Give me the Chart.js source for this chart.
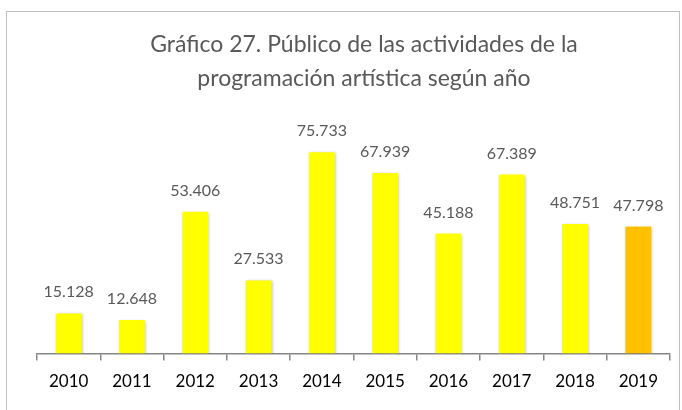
<!DOCTYPE html>
<html><head><meta charset="utf-8">
<script src="https://cdn.jsdelivr.net/npm/chart.js@4.4.0/dist/chart.umd.min.js"></script>
<style>html,body{margin:0;padding:0;background:#fff;}canvas{display:block;}</style>
</head><body>
<canvas id="c" width="682" height="410"></canvas>
<script>
const categories = ['2010','2011','2012','2013','2014','2015','2016','2017','2018','2019'];
const publico = [15128, 12648, 53406, 27533, 75733, 67939, 45188, 67389, 48751, 47798];
const valueLabels = ['15.128','12.648','53.406','27.533','75.733','67.939','45.188','67.389','48.751','47.798'];
const titleLines = ['Gráfico 27. Público de las actividades de la', 'programación artística según año'];
const barColors = categories.map((c,i)=> i === categories.length-1 ? '#FFC000' : '#FFFF00');

const FONT = 'Lato, "Open Sans", sans-serif';

const decor = {
  id:'decor',
  beforeDraw(chart){
    const ctx = chart.ctx;
    ctx.save();
    ctx.fillStyle = '#fff';
    ctx.fillRect(0,0,chart.width,chart.height);
    ctx.strokeStyle = '#BFBFBF';
    ctx.lineWidth = 1;
    ctx.strokeRect(6.5, 11.5, 673, 420);
    ctx.fillStyle = '#595959';
    ctx.font = '23px ' + FONT;
    ctx.textAlign = 'center';
    ctx.textBaseline = 'middle';
    ctx.fillText(titleLines[0], 364, 45);
    ctx.fillText(titleLines[1], 364, 79);
    ctx.restore();
  },
  beforeDatasetsDraw(chart){
    const ctx = chart.ctx;
    ctx.save();
    ctx.shadowColor = 'rgba(0,0,0,0.25)';
    ctx.shadowBlur = 3;
    ctx.shadowOffsetX = 1;
    ctx.shadowOffsetY = 1;
  },
  afterDatasetsDraw(chart){
    const ctx = chart.ctx;
    ctx.restore();
    ctx.save();
    ctx.fillStyle = '#595959';
    ctx.font = '16px ' + FONT;
    ctx.textAlign = 'center';
    ctx.textBaseline = 'alphabetic';
    chart.getDatasetMeta(0).data.forEach((el,i)=>{
      ctx.fillText(valueLabels[i], el.x, el.y - 16);
    });
    ctx.restore();
  }
};

new Chart(document.getElementById('c'), {
  type:'bar',
  data:{ labels:categories, datasets:[{ data:publico, backgroundColor:barColors, borderWidth:0, categoryPercentage:1, barPercentage:0.41 }]},
  options:{
    responsive:false, animation:false,
    layout:{ padding:{ top:141, left:37, right:12, bottom:7 } },
    plugins:{ legend:{display:false}, tooltip:{enabled:false}, title:{display:false} },
    scales:{
      y:{ display:false, min:0, max:80000 },
      x:{
        grid:{ drawOnChartArea:false, drawTicks:true, tickLength:7, color:'#868686', lineWidth:1.5 },
        border:{ display:true, color:'#868686', width:1.5 },
        ticks:{ color:'#000', font:{ size:17, family:FONT }, padding:11 }
      }
    }
  },
  plugins:[decor]
});
</script>
</body></html>
